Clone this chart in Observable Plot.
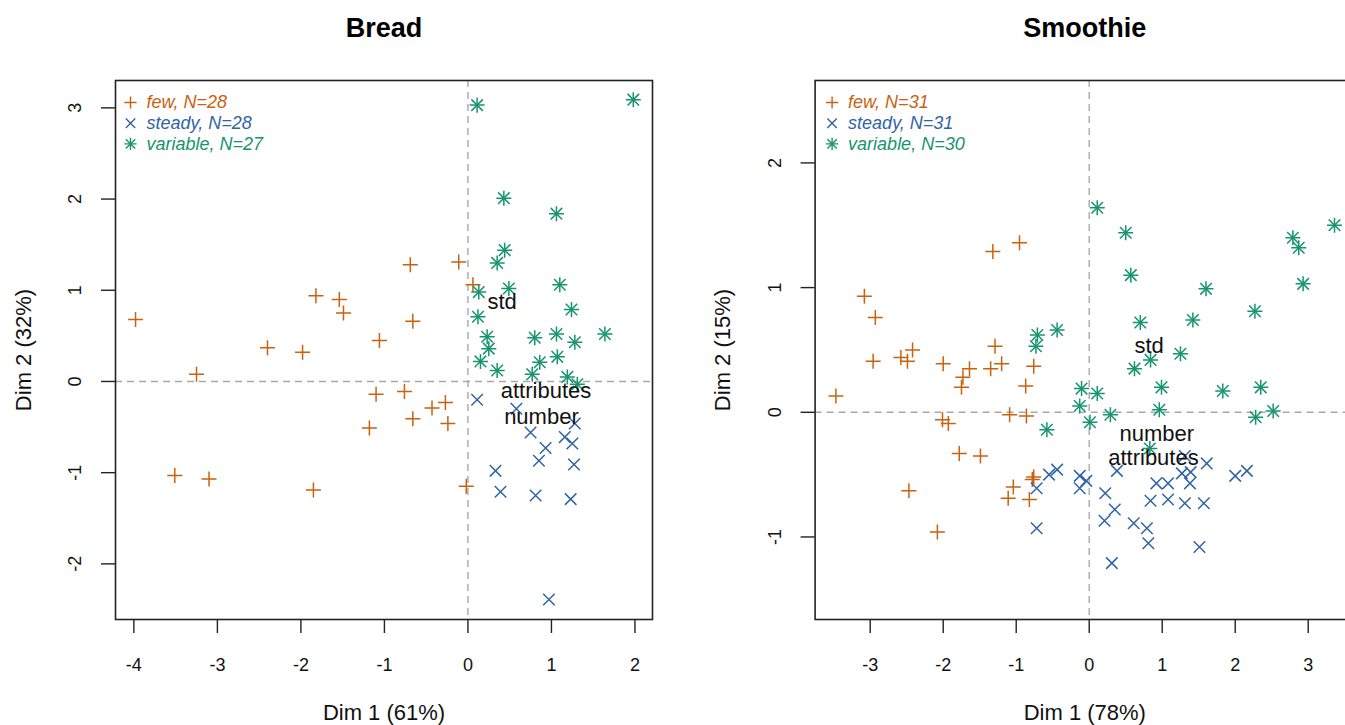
<!DOCTYPE html>
<html><head><meta charset="utf-8">
<script src="https://cdn.jsdelivr.net/npm/d3@7"></script>
<script src="https://cdn.jsdelivr.net/npm/@observablehq/plot@0.6"></script>
<style>
html,body{margin:0;padding:0;background:#fff;overflow:hidden;}
#wrap{position:relative;width:1345px;height:725px;overflow:hidden;background:#fff;}
#wrap svg{position:absolute;top:0;}
</style></head><body><div id="wrap"></div>
<script>
// ---------- data ----------
const groupNames = ["few", "steady", "variable"];
const groupColors = ["#C9620F", "#3064A5", "#16946E"];

const breadTitle = "Bread";
const breadXLabel = "Dim 1 (61%)";
const breadYLabel = "Dim 2 (32%)";
const breadN = [28, 28, 27];
const breadXTicks = [-4, -3, -2, -1, 0, 1, 2];
const breadYTicks = [-2, -1, 0, 1, 2, 3];
const breadFew = [[-3.98,0.68],[-3.25,0.08],[-3.51,-1.03],[-3.10,-1.07],[-2.40,0.37],[-1.98,0.32],[-1.82,0.94],[-1.54,0.90],[-1.49,0.75],[-1.85,-1.19],[-1.06,0.45],[-0.69,1.28],[-0.66,0.66],[-0.11,1.31],[0.06,1.06],[-1.10,-0.14],[-0.76,-0.11],[-1.18,-0.51],[-0.66,-0.41],[-0.43,-0.29],[-0.27,-0.23],[-0.24,-0.46],[-0.02,-1.15]];
const breadSteady = [[0.11,-0.20],[0.58,-0.30],[0.75,-0.56],[0.93,-0.73],[0.85,-0.87],[1.16,-0.61],[1.25,-0.68],[1.28,-0.46],[1.27,-0.91],[0.33,-0.98],[0.39,-1.21],[0.81,-1.25],[1.23,-1.29],[0.97,-2.39]];
const breadVariable = [[0.11,3.03],[1.98,3.09],[0.43,2.01],[1.06,1.84],[0.44,1.44],[0.35,1.30],[0.49,1.02],[0.13,0.98],[1.10,1.06],[1.24,0.79],[0.12,0.71],[0.23,0.49],[0.25,0.36],[0.15,0.22],[0.80,0.48],[1.06,0.52],[1.28,0.43],[1.64,0.52],[0.35,0.12],[0.86,0.21],[1.07,0.27],[0.77,0.08],[1.19,0.05],[1.31,-0.03]];
const breadVarNames = ["std", "attributes", "number"];
const breadVarX = [0.41, 0.935, 0.88];
const breadVarY = [0.875, -0.10, -0.385];

const smoothieTitle = "Smoothie";
const smoothieXLabel = "Dim 1 (78%)";
const smoothieYLabel = "Dim 2 (15%)";
const smoothieN = [31, 31, 30];
const smoothieXTicks = [-3, -2, -1, 0, 1, 2, 3];
const smoothieYTicks = [-1, 0, 1, 2];
const smoothieFew = [[-3.08,0.93],[-2.93,0.76],[-3.47,0.13],[-2.96,0.41],[-2.58,0.44],[-2.49,0.41],[-2.42,0.50],[-2.00,0.39],[-1.75,0.20],[-1.73,0.28],[-1.64,0.35],[-1.35,0.35],[-1.32,1.29],[-0.955,1.36],[-1.29,0.53],[-1.20,0.39],[-0.76,0.37],[-0.87,0.21],[-1.09,-0.02],[-0.86,-0.03],[-2.01,-0.06],[-1.93,-0.09],[-1.78,-0.33],[-1.49,-0.35],[-2.47,-0.63],[-2.08,-0.96],[-0.76,-0.52],[-0.78,-0.54],[-1.04,-0.60],[-1.11,-0.69],[-0.82,-0.70]];
const smoothieSteady = [[-0.72,-0.61],[-0.55,-0.50],[-0.44,-0.46],[-0.72,-0.93],[-0.13,-0.51],[-0.04,-0.55],[-0.13,-0.61],[0.22,-0.65],[0.35,-0.78],[0.21,-0.87],[0.61,-0.89],[0.79,-0.93],[0.81,-1.05],[0.31,-1.21],[0.38,-0.47],[0.92,-0.57],[1.08,-0.57],[0.84,-0.71],[1.08,-0.70],[1.31,-0.73],[1.57,-0.73],[1.27,-0.49],[1.39,-0.48],[1.38,-0.57],[1.61,-0.41],[2.00,-0.51],[2.16,-0.47],[1.51,-1.08],[1.31,-0.35]];
const smoothieVariable = [[0.11,1.64],[0.50,1.44],[0.57,1.10],[1.60,0.99],[2.79,1.40],[2.87,1.32],[3.36,1.50],[2.93,1.03],[2.27,0.81],[0.70,0.72],[1.42,0.74],[-0.71,0.62],[-0.44,0.66],[-0.73,0.53],[1.25,0.47],[0.84,0.42],[0.62,0.35],[0.99,0.20],[1.83,0.17],[2.35,0.20],[-0.105,0.19],[0.11,0.15],[-0.13,0.05],[0.29,-0.02],[0.96,0.02],[2.52,0.01],[2.28,-0.04],[-0.58,-0.14],[0.01,-0.08],[0.83,-0.29]];
const smoothieVarNames = ["std", "number", "attributes"];
const smoothieVarX = [0.82, 0.925, 0.88];
const smoothieVarY = [0.535, -0.175, -0.37];

// ---------- drawing ----------
const FONT = "'Liberation Sans', Arial, Helvetica, sans-serif";
// R pch 3 (+), pch 4 (x), pch 8 (+ and x overlaid)
const groupSymbols = [
  [{symbol: "plus", r: 4.9}],
  [{symbol: "times", r: 5.3}],
  [{symbol: "plus", r: 4.9}, {symbol: "times", r: 5.3}]
];

function panel(p) {
  const marks = [
    Plot.ruleX([0], {stroke: "#a9a9a9", strokeWidth: 1.4, strokeDasharray: "7,5"}),
    Plot.ruleY([0], {stroke: "#a9a9a9", strokeWidth: 1.4, strokeDasharray: "7,5"})
  ];
  p.points.forEach((pts, i) => {
    groupSymbols[i].forEach(s => {
      marks.push(Plot.dot(pts, {x: d => d[0], y: d => d[1], symbol: s.symbol, r: s.r,
        stroke: groupColors[i], strokeWidth: 1.5}));
    });
  });
  marks.push(Plot.text(p.varNames, {x: (d, i) => p.varX[i], y: (d, i) => p.varY[i], text: d => d,
    fontSize: 22, fill: "#111"}));
  // legend (top-left inside the frame)
  groupNames.forEach((g, i) => {
    groupSymbols[i].forEach(s => {
      marks.push(Plot.dot([g], {frameAnchor: "top-left", dx: p.legDx, dy: 22 + 20.7 * i,
        symbol: s.symbol, r: s.r * 0.82, stroke: groupColors[i], strokeWidth: 1.4}));
    });
    marks.push(Plot.text([`${g}, N=${p.n[i]}`], {frameAnchor: "top-left", dx: p.legDx + 16, dy: 22 + 20.7 * i,
      textAnchor: "start", lineAnchor: "middle", fontStyle: "italic", fontSize: 18, fill: groupColors[i]}));
  });
  marks.push(Plot.frame({stroke: "#222", strokeWidth: 1.6}));
  marks.push(Plot.axisX({ticks: p.xTicks, tickSize: 14, tickPadding: 25, tickFormat: d => String(d),
    fontSize: 18, label: null, stroke: "#222", strokeWidth: 1.4, fill: "#111"}));
  marks.push(Plot.axisY({ticks: p.yTicks, tickSize: 14, tickFormat: () => "", label: null,
    stroke: "#222", strokeWidth: 1.4}));
  marks.push(Plot.text(p.yTicks, {y: d => d, text: d => String(d), frameAnchor: "left", dx: -40,
    rotate: -90, textAnchor: "middle", lineAnchor: "middle", fontSize: 18, fill: "#111"}));
  marks.push(Plot.text([p.title], {frameAnchor: "top", dy: -52, lineAnchor: "middle",
    fontSize: 27, fontWeight: "bold", fill: "#000"}));
  marks.push(Plot.text([p.xLabel], {frameAnchor: "bottom", dy: 93, lineAnchor: "middle",
    fontSize: 22, fill: "#111"}));
  marks.push(Plot.text([p.yLabel], {frameAnchor: "left", dx: -92, rotate: -90, textAnchor: "middle",
    lineAnchor: "middle", fontSize: 22, fill: "#111"}));

  return Plot.plot({
    width: p.width, height: 725,
    marginLeft: p.ml, marginRight: p.mr, marginTop: 80, marginBottom: 106,
    x: {domain: p.xDomain}, y: {domain: p.yDomain},
    style: {fontFamily: FONT, background: "transparent", overflow: "visible"},
    marks
  });
}

const wrap = document.getElementById("wrap");

const left = panel({
  title: breadTitle, xLabel: breadXLabel, yLabel: breadYLabel, n: breadN,
  xTicks: breadXTicks, yTicks: breadYTicks,
  points: [breadFew, breadSteady, breadVariable],
  varNames: breadVarNames, varX: breadVarX, varY: breadVarY,
  width: 672, ml: 115, mr: 20, xDomain: [-4.22, 2.21], yDomain: [-2.61, 3.30], legDx: 15
});
left.style.left = "0px";
wrap.appendChild(left);

const right = panel({
  title: smoothieTitle, xLabel: smoothieXLabel, yLabel: smoothieYLabel, n: smoothieN,
  xTicks: smoothieXTicks, yTicks: smoothieYTicks,
  points: [smoothieFew, smoothieSteady, smoothieVariable],
  varNames: smoothieVarNames, varX: smoothieVarX, varY: smoothieVarY,
  width: 700, ml: 142.6, mr: 18, xDomain: [-3.755, 3.634], yDomain: [-1.662, 2.661], legDx: 17
});
right.style.left = "672px";
wrap.appendChild(right);
</script>
</body></html>
